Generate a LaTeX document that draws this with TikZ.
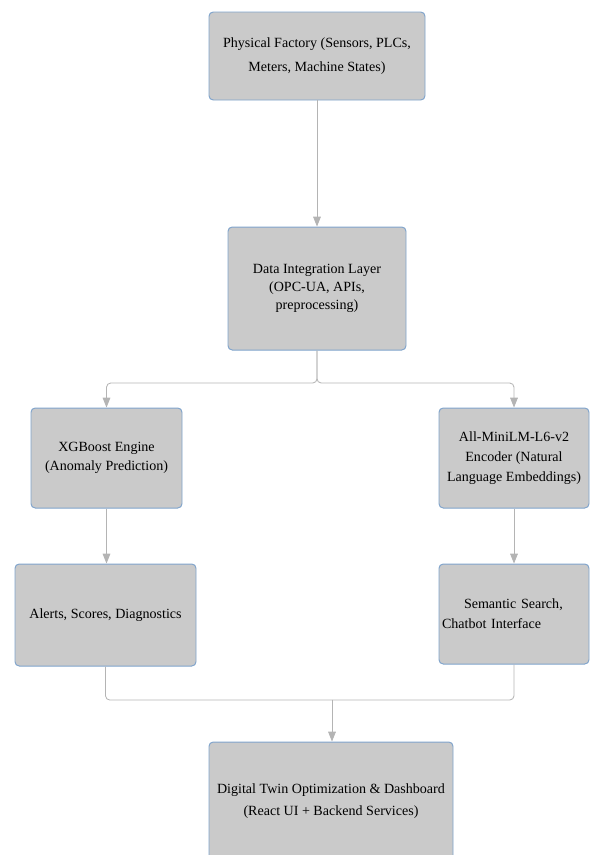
\documentclass[tikz,border=0pt]{standalone}
\usepackage{fontspec}
\setmainfont{Liberation Serif}
\usetikzlibrary{positioning,arrows.meta}
\definecolor{boxfill}{HTML}{CACACA}
\definecolor{boxline}{HTML}{7FA3CC}
\definecolor{linkgray}{HTML}{B4B4B4}

\begin{document}
\begin{tikzpicture}[
  box/.style={draw=boxline, fill=boxfill, rounded corners=3pt, line width=0.7pt, align=center, inner sep=2pt, font=\fontsize{10}{14}\selectfont},
  arrow/.style={-{Triangle[length=7pt,width=5.5pt]}, draw=linkgray, line width=0.6pt, rounded corners=3pt},
  link/.style={draw=linkgray, line width=0.6pt, rounded corners=3pt}
]
\useasboundingbox (0,0) rectangle (14.8,-21.375);
\clip (0,0) rectangle (14.8,-21.375);
\node[box, minimum width=5.4cm, minimum height=2.2cm, font=\fontsize{10}{17.5}\selectfont] (phys) at (7.925,-1.4) {Physical Factory (Sensors, PLCs,\\Meters, Machine States)};
\node[box, minimum width=4.45cm, minimum height=3.075cm, font=\fontsize{10}{13}\selectfont] (integ) at (7.925,-7.2125) {Data Integration Layer\\(OPC-UA, APIs,\\preprocessing)};
\node[box, minimum width=3.775cm, minimum height=2.5cm] (xgb) at (2.6625,-11.45) {XGBoost Engine\\(Anomaly Prediction)};
\node[box, minimum width=3.75cm, minimum height=2.5cm] (mini) at (12.85,-11.45) {All-MiniLM-L6-v2\\Encoder (Natural\\Language Embeddings)};
\node[box, minimum width=4.525cm, minimum height=2.55cm] (alerts) at (2.6375,-15.375) {Alerts, Scores, Diagnostics};
\node[box, minimum width=3.75cm, minimum height=2.5cm, align=left, text width=3.6cm] (sem) at (12.85,-15.35) {\hspace*{0.55cm}Semantic Search,\\Chatbot Interface};
\node[box, minimum width=6.1cm, minimum height=2.95cm, font=\fontsize{10}{15.5}\selectfont] (dash) at (8.275,-20.025) {Digital Twin Optimization \& Dashboard\\(React UI + Backend Services)};

\coordinate (split) at (7.925,-9.575);
\coordinate (merge) at (8.3,-17.5);

\draw[arrow] (phys) -- (integ);
\draw[arrow] (integ.south) -- (split) -| (xgb.north);
\draw[arrow] (integ.south) -- (split) -| (mini.north);
\draw[arrow] (xgb.south) -- (xgb.south |- alerts.north);
\draw[arrow] (mini) -- (sem);
\draw[link] (alerts.south) |- (merge);
\draw[link] (sem.south) |- (merge);
\draw[arrow] (merge) -- (merge |- dash.north);
\end{tikzpicture}
\end{document}
